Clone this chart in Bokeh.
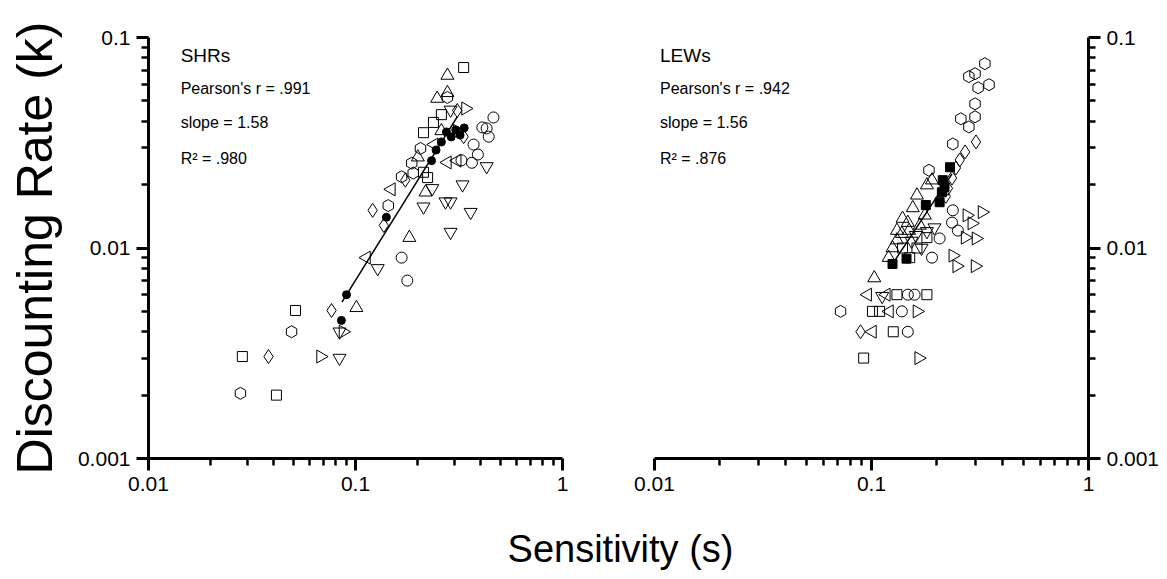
import numpy as np
from bokeh.plotting import figure
from bokeh.layouts import row, column
from bokeh.models import FixedTicker, Range1d, Label, CustomJSTickFormatter
from bokeh.embed import file_html
from bokeh.resources import INLINE

FONT = "Liberation Sans"

# ---------------- data: SHRs (left panel) ----------------
shr_circle_s = [0.464, 0.41, 0.43, 0.44, 0.372, 0.39, 0.325, 0.365, 0.167, 0.178]
shr_circle_k = [0.0417, 0.0374, 0.0370, 0.0338, 0.0310, 0.0278, 0.0261, 0.0254, 0.0090, 0.0070]

shr_square_s = [0.333, 0.238, 0.213, 0.213, 0.223, 0.26, 0.0513, 0.0284, 0.0415]
shr_square_k = [0.072, 0.0395, 0.0353, 0.0229, 0.0216, 0.043, 0.00505, 0.00305, 0.0020]

shr_diamond_s = [0.038, 0.0766, 0.121, 0.137, 0.174, 0.333, 0.31]
shr_diamond_k = [0.00305, 0.00505, 0.0151, 0.0128, 0.0210, 0.0338, 0.045]

shr_tri_up_s = [0.278, 0.248, 0.278, 0.218, 0.182, 0.101, 0.26, 0.20]
shr_tri_up_k = [0.066, 0.0513, 0.0546, 0.0184, 0.0112, 0.0052, 0.036, 0.027]

shr_tri_down_s = [0.288, 0.43, 0.329, 0.213, 0.272, 0.288, 0.288, 0.36, 0.128, 0.0837, 0.0837, 0.235]
shr_tri_down_k = [0.0453, 0.0244, 0.0200, 0.0157, 0.0166, 0.0166, 0.0119, 0.0148, 0.0080, 0.0030, 0.0040, 0.0192]

shr_tri_right_s = [0.34, 0.0678, 0.087, 0.31]
shr_tri_right_k = [0.046, 0.00305, 0.0040, 0.036]

shr_tri_left_s = [0.278, 0.31, 0.149, 0.113, 0.24]
shr_tri_left_k = [0.0255, 0.026, 0.0190, 0.0090, 0.031]

shr_hex_s = [0.0278, 0.0491, 0.144, 0.187, 0.167, 0.206, 0.278, 0.19]
shr_hex_k = [0.00204, 0.0040, 0.0159, 0.0253, 0.0218, 0.0297, 0.0519, 0.0227]

shr_mean_s = [0.0855, 0.0905, 0.141, 0.233, 0.245, 0.26, 0.275, 0.29, 0.305, 0.32, 0.335]
shr_mean_k = [0.00453, 0.0060, 0.0140, 0.0260, 0.0292, 0.0319, 0.0356, 0.0337, 0.0364, 0.0344, 0.0372]

shr_fit_slope = 1.58
shr_fit_anchor = (0.0905, 0.0060)
shr_fit_span = (0.086, 0.31)
shr_stats = ["SHRs", "Pearson's r = .991", "slope = 1.58", "R\u00b2 = .980"]

# ---------------- data: LEWs (right panel) ----------------
lew_hex_s = [0.333, 0.281, 0.300, 0.310, 0.348, 0.300, 0.300, 0.258, 0.281, 0.237, 0.184, 0.072]
lew_hex_k = [0.0751, 0.0652, 0.0673, 0.0577, 0.0597, 0.0484, 0.0420, 0.0411, 0.0376, 0.0312, 0.0234, 0.0050]

lew_diamond_s = [0.303, 0.270, 0.255, 0.245, 0.235, 0.225, 0.220, 0.089]
lew_diamond_k = [0.0319, 0.0286, 0.0262, 0.0240, 0.0215, 0.0192, 0.0176, 0.0040]

lew_mean_s = [0.230, 0.213, 0.211, 0.206, 0.178, 0.217, 0.145, 0.125]
lew_mean_k = [0.0242, 0.0210, 0.0184, 0.0165, 0.0160, 0.0195, 0.0089, 0.0084]

lew_tri_up_s = [0.180, 0.162, 0.139, 0.147, 0.131, 0.149, 0.138, 0.131, 0.125, 0.103, 0.167, 0.176, 0.155, 0.190, 0.120]
lew_tri_up_k = [0.0199, 0.0178, 0.0138, 0.0132, 0.0121, 0.0121, 0.0117, 0.0109, 0.0100, 0.0072, 0.0128, 0.0143, 0.0155, 0.0210, 0.0090]

lew_circle_s = [0.237, 0.235, 0.250, 0.206, 0.190, 0.147, 0.158, 0.138, 0.147]
lew_circle_k = [0.0151, 0.0132, 0.0121, 0.0111, 0.0090, 0.0060, 0.0060, 0.0050, 0.0040]

lew_tri_right_s = [0.323, 0.275, 0.290, 0.270, 0.303, 0.237, 0.247, 0.300, 0.162, 0.165]
lew_tri_right_k = [0.0148, 0.0143, 0.0131, 0.0112, 0.0111, 0.0092, 0.0082, 0.0082, 0.0050, 0.0030]

lew_tri_left_s = [0.096, 0.117, 0.121, 0.101]
lew_tri_left_k = [0.0060, 0.0060, 0.0050, 0.0040]

lew_tri_down_s = [0.112, 0.170, 0.153, 0.195, 0.160, 0.180]
lew_tri_down_k = [0.0059, 0.0100, 0.0108, 0.0125, 0.0115, 0.0120]

lew_square_s = [0.131, 0.180, 0.101, 0.109, 0.126, 0.092, 0.180, 0.162, 0.139, 0.150]
lew_square_k = [0.0060, 0.0060, 0.0050, 0.0050, 0.0040, 0.0030, 0.0112, 0.0100, 0.0100, 0.0090]

lew_fit_slope = 1.56
lew_fit_anchor = (0.125, 0.0084)
lew_fit_span = (0.125, 0.235)
lew_stats = ["LEWs", "Pearson's r = .942", "slope = 1.56", "R\u00b2 = .876"]

# ---------------- axis ticks ----------------
x_major = [0.01, 0.1, 1]
y_major = [0.001, 0.01, 0.1]
mantissas = [2, 3, 4, 5, 6, 7, 8, 9]
x_minor = [m * d for d in x_major[:-1] for m in mantissas]
y_minor = [m * d for d in y_major[:-1] for m in mantissas]


def style_axis(ax):
    ax.axis_line_width = 3
    ax.axis_line_color = "black"
    ax.major_tick_line_width = 3
    ax.minor_tick_line_width = 2.5
    ax.major_tick_out = 12
    ax.major_tick_in = 0
    ax.minor_tick_out = 7
    ax.minor_tick_in = 0
    ax.major_label_text_font = FONT
    ax.major_label_text_font_size = "21px"
    ax.major_label_text_color = "black"
    ax.major_label_standoff = 6
    ax.formatter = CustomJSTickFormatter(code="return tick.toString();")


def make_panel(frame_w, yside, b_left, b_right):
    p = figure(frame_width=frame_w, frame_height=421,
               x_axis_type="log", y_axis_type="log",
               x_range=Range1d(0.01, 1), y_range=Range1d(0.001, 0.1),
               x_axis_location="below", y_axis_location=yside,
               output_backend="svg", toolbar_location=None,
               min_border_left=b_left, min_border_right=b_right,
               min_border_top=37, min_border_bottom=50)
    p.outline_line_color = None
    p.grid.visible = False
    p.xaxis.ticker = FixedTicker(ticks=x_major, minor_ticks=x_minor)
    p.yaxis.ticker = FixedTicker(ticks=y_major, minor_ticks=y_minor)
    for ax in p.axis:
        style_axis(ax)
    return p


def draw(p, s, k, marker, size=12, angle=0.0, filled=False):
    p.scatter(s, k, marker=marker, size=size, angle=angle,
              line_color="black", line_width=1,
              fill_color="black" if filled else None)


def fit_line(p, slope, anchor, span):
    xs = np.array(span)
    ys = anchor[1] * (xs / anchor[0]) ** slope
    p.line(xs, ys, line_color="black", line_width=1.5)


def stats_text(p, lines, x0):
    ys = [0.0821, 0.0573, 0.0394, 0.0266]
    sizes = ["19px", "16px", "16px", "16px"]
    for t, yy, fs in zip(lines, ys, sizes):
        p.add_layout(Label(x=x0, y=yy, text=t, text_font=FONT, text_font_size=fs,
                           text_baseline="middle", text_align="left", text_color="black"))


# ---------------- left panel ----------------
p1 = make_panel(414, "left", 148, 46)
p1.yaxis.axis_label = "Discounting Rate (k)"
p1.yaxis.axis_label_text_font = FONT
p1.yaxis.axis_label_text_font_size = "50px"
p1.yaxis.axis_label_text_font_style = "normal"
p1.yaxis.axis_label_text_color = "black"
p1.yaxis.axis_label_standoff = 12

draw(p1, shr_circle_s, shr_circle_k, "circle", size=11)
draw(p1, shr_square_s, shr_square_k, "square", size=10)
draw(p1, shr_diamond_s, shr_diamond_k, "diamond", size=14)
draw(p1, shr_tri_up_s, shr_tri_up_k, "triangle", size=13)
draw(p1, shr_tri_down_s, shr_tri_down_k, "inverted_triangle", size=13)
draw(p1, shr_tri_right_s, shr_tri_right_k, "triangle", size=13, angle=-np.pi / 2)
draw(p1, shr_tri_left_s, shr_tri_left_k, "triangle", size=13, angle=np.pi / 2)
draw(p1, shr_hex_s, shr_hex_k, "hex", size=12, angle=np.pi / 2)
fit_line(p1, shr_fit_slope, shr_fit_anchor, shr_fit_span)
draw(p1, shr_mean_s, shr_mean_k, "circle", size=8, filled=True)
stats_text(p1, shr_stats, 0.0143)

# ---------------- right panel ----------------
p2 = make_panel(434, "right", 46, 70)

draw(p2, lew_hex_s, lew_hex_k, "hex", size=12, angle=np.pi / 2)
draw(p2, lew_diamond_s, lew_diamond_k, "diamond", size=14)
draw(p2, lew_tri_up_s, lew_tri_up_k, "triangle", size=13)
draw(p2, lew_circle_s, lew_circle_k, "circle", size=11)
draw(p2, lew_tri_right_s, lew_tri_right_k, "triangle", size=13, angle=-np.pi / 2)
draw(p2, lew_tri_left_s, lew_tri_left_k, "triangle", size=13, angle=np.pi / 2)
draw(p2, lew_tri_down_s, lew_tri_down_k, "inverted_triangle", size=13)
draw(p2, lew_square_s, lew_square_k, "square", size=10)
fit_line(p2, lew_fit_slope, lew_fit_anchor, lew_fit_span)
draw(p2, lew_mean_s, lew_mean_k, "square", size=9, filled=True)
stats_text(p2, lew_stats, 0.0106)

# ---------------- shared x title ----------------
W3 = 1158
H3 = 67
p3 = figure(width=W3, height=H3, x_range=Range1d(0, W3), y_range=Range1d(0, H3),
            x_axis_location=None, y_axis_location=None,
            output_backend="svg", toolbar_location=None, min_border=0)
p3.outline_line_color = None
p3.grid.visible = False
p3.add_layout(Label(x=620, y=27, text="Sensitivity (s)", text_font=FONT,
                    text_font_size="38px", text_align="center", text_baseline="middle",
                    text_color="black"))

layout = column(row(p1, p2), p3)
open("out.html", "w").write(file_html(layout, INLINE))
